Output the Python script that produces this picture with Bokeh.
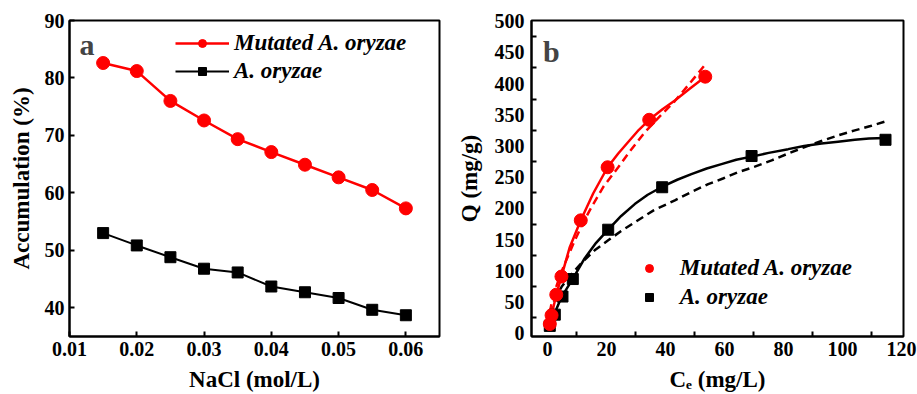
from bokeh.plotting import figure
from bokeh.layouts import row
from bokeh.models import FixedTicker, Range1d, Legend, LegendItem, Label
from bokeh.embed import file_html
from bokeh.resources import INLINE

# ---------------- Panel a data ----------------
nacl = [0.015, 0.02, 0.025, 0.03, 0.035, 0.04, 0.045, 0.05, 0.055, 0.06]
mutated_acc = [82.6, 81.2, 76.0, 72.6, 69.35, 67.1, 64.9, 62.7, 60.5, 57.3]
wild_acc = [53.0, 50.85, 48.8, 46.8, 46.15, 43.7, 42.7, 41.7, 39.65, 38.7]

# ---------------- Panel b data ----------------
mut_ce = [0.8, 1.4, 3.0, 4.75, 11.3, 20.4, 34.5, 53.5]
mut_q = [15, 29, 62, 91, 181, 266, 342, 411]
wild_ce = [0.8, 2.5, 5.1, 8.6, 20.6, 38.9, 69.2, 114.6]
wild_q = [12, 30, 59, 87, 166, 234, 284, 310]

# fitted curves
mut_solid_x = [0.8, 1.4, 3.0, 4.75, 7.5, 11.3, 15.5, 20.4, 24.0, 27.3, 31.0, 34.5, 39.0, 43.2, 48.0, 53.5]
mut_solid_y = [15, 29, 62, 91, 137, 181, 224, 266, 288, 306, 326, 342, 359, 373, 391, 411]
mut_dash_x = [0.8, 1.5, 3.0, 4.7, 7.0, 9.3, 12.0, 14.9, 19.0, 24.0, 28.0, 33.0, 38.0, 43.2, 48.0, 53.6]
mut_dash_y = [34, 50, 75, 98, 124, 149, 176, 202, 235, 266, 292, 322, 347, 372, 399, 431]
wild_solid_x = [0.8, 2.5, 4.75, 8.7, 12.6, 16.5, 20.6, 25.0, 29.6, 34.0, 38.6, 44.0, 48.8, 54.0,
                59.0, 64.0, 69.2, 75.0, 81.6, 87.0, 92.9, 98.5, 104.2, 109.0, 114.5]
wild_solid_y = [12, 33, 58, 88, 120, 145, 166, 188, 207, 222, 234, 246, 255, 264,
                271, 278, 283, 289, 295, 300, 304, 307, 310, 312, 313]
wild_dash_x = [0.8, 2.0, 3.5, 5.0, 8.0, 12.0, 16.0, 20.6, 25.0, 30.0, 36.0, 43.2, 49.0, 54.5,
               59.5, 64.6, 70.3, 76.0, 81.6, 87.0, 92.9, 98.5, 104.2, 109.5, 115.0]
wild_dash_y = [31, 49, 64, 76, 94, 115, 133, 149, 164, 179, 197, 213, 227, 239,
               248, 258, 267, 277, 288, 298, 308, 317, 325, 332, 340]

FONT = "Liberation Serif"
RED = "#ff0000"
BLACK = "#000000"


def style(p):
    p.outline_line_color = "black"
    p.outline_line_width = 2
    p.xgrid.visible = False
    p.ygrid.visible = False
    for ax in (p.xaxis[0], p.yaxis[0]):
        ax.axis_line_width = 2
        ax.major_tick_line_width = 2
        ax.minor_tick_line_width = 2
        ax.major_tick_in = 5
        ax.major_tick_out = 0
        ax.minor_tick_in = 0
        ax.minor_tick_out = 0
        ax.major_label_text_font = FONT
        ax.major_label_text_font_style = "bold"
        ax.major_label_text_font_size = "20px"
        ax.major_label_text_color = "black"
        ax.axis_label_text_font = FONT
        ax.axis_label_text_font_style = "bold"
        ax.axis_label_text_font_size = "23px"
        ax.axis_label_text_color = "black"
        ax.major_label_standoff = 5
        ax.axis_label_standoff = 8


# ---------------- Panel a ----------------
p1 = figure(width=453, height=394, output_backend="svg", toolbar_location=None,
            x_range=Range1d(0.01, 0.065), y_range=Range1d(35, 90),
            frame_width=370, frame_height=316,
            min_border_left=69, min_border_right=14, min_border_top=20, min_border_bottom=58)
style(p1)
p1.xaxis.ticker = FixedTicker(ticks=[0.01, 0.02, 0.03, 0.04, 0.05, 0.06])
p1.yaxis.ticker = FixedTicker(ticks=[40, 50, 60, 70, 80, 90])
p1.xaxis.axis_label = "NaCl (mol/L)"
p1.yaxis.axis_label = "Accumulation (%)"

l1 = p1.line(nacl, mutated_acc, line_color=RED, line_width=2.5)
s1 = p1.scatter(nacl, mutated_acc, marker="circle", size=13, fill_color=RED, line_color=RED)
l2 = p1.line(nacl, wild_acc, line_color=BLACK, line_width=2)
s2 = p1.scatter(nacl, wild_acc, marker="square", size=11, fill_color=BLACK, line_color=BLACK)

leg1 = Legend(items=[LegendItem(label="Mutated A. oryzae", renderers=[l1, s1]),
                     LegendItem(label="A. oryzae", renderers=[l2, s2])],
              location=(106, 251.8), glyph_width=54, glyph_height=20, label_height=20,
              spacing=2, padding=0, margin=0, label_standoff=5,
              border_line_color=None, background_fill_alpha=0,
              label_text_font=FONT, label_text_font_style="bold italic",
              label_text_font_size="23px", label_text_color="black")
p1.add_layout(leg1)
p1.add_layout(Label(x=0.0115, y=85.8, text="a", text_font=FONT, text_font_style="bold",
                    text_font_size="30px", text_baseline="alphabetic"))

# ---------------- Panel b ----------------
p2 = figure(width=464, height=394, output_backend="svg", toolbar_location=None,
            x_range=Range1d(-5.4, 120.7), y_range=Range1d(-5, 501),
            frame_width=372, frame_height=316,
            min_border_left=77, min_border_right=15, min_border_top=20, min_border_bottom=58)
style(p2)
p2.xaxis.ticker = FixedTicker(ticks=[0, 20, 40, 60, 80, 100, 120],
                              minor_ticks=[10, 30, 50, 70, 90, 110])
p2.yaxis.ticker = FixedTicker(ticks=list(range(0, 501, 50)),
                              minor_ticks=list(range(25, 500, 50)))
for ax in (p2.xaxis[0], p2.yaxis[0]):
    ax.major_tick_in = 0
    ax.minor_tick_in = 5
p2.yaxis[0].axis_label_standoff = 10
p2.yaxis[0].major_label_standoff = 7
p2.xaxis.axis_label = "Cₑ (mg/L)"
p2.yaxis.axis_label = "Q (mg/g)"

p2.line(wild_dash_x, wild_dash_y, line_color=BLACK, line_width=2.5, line_dash="8 5")
p2.line(wild_solid_x, wild_solid_y, line_color=BLACK, line_width=2.5)
p2.line(mut_dash_x, mut_dash_y, line_color=RED, line_width=2.5, line_dash="8 5")
p2.line(mut_solid_x, mut_solid_y, line_color=RED, line_width=2.5)
r_w = p2.scatter(wild_ce, wild_q, marker="square", size=11, fill_color=BLACK, line_color=BLACK)
r_m = p2.scatter(mut_ce, mut_q, marker="circle", size=13, fill_color=RED, line_color=RED)

leg2 = Legend(items=[LegendItem(label="Mutated A. oryzae", renderers=[r_m]),
                     LegendItem(label="A. oryzae", renderers=[r_w])],
              location=(97.7, 25.8), glyph_width=40, glyph_height=20, label_height=20,
              spacing=3, padding=0, margin=0, label_standoff=11,
              border_line_color=None, background_fill_alpha=0,
              label_text_font=FONT, label_text_font_style="bold italic",
              label_text_font_size="23px", label_text_color="black")
p2.add_layout(leg2)
p2.add_layout(Label(x=-1.46, y=450.7, text="b", text_font=FONT, text_font_style="bold",
                    text_font_size="30px", text_baseline="alphabetic"))

layout = row(p1, p2)
open("out.html", "w").write(file_html(layout, INLINE))
